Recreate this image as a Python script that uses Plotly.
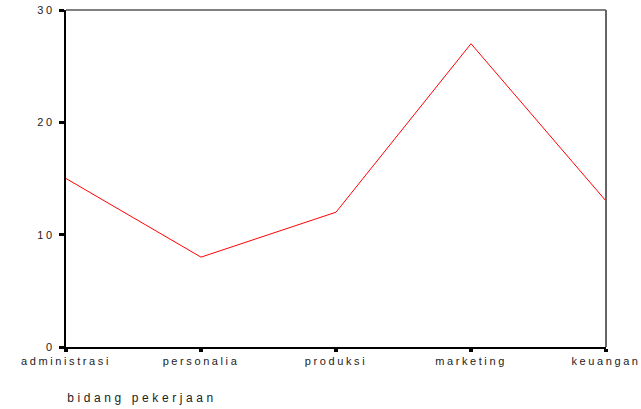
import plotly.graph_objects as go

categories = ["administrasi", "personalia", "produksi", "marketing", "keuangan"]
values = [15, 8, 12, 27, 13]
y_ticks = [0, 10, 20, 30]
x_title = "bidang pekerjaan"

fig = go.Figure()
fig.add_trace(go.Scatter(x=categories, y=values, mode="lines",
                         line=dict(color="#ff0000", width=1), hoverinfo="skip"))

font = dict(family="Liberation Sans, Arial", size=11, color="#222222")
fig.update_layout(
    width=641, height=409,
    margin=dict(l=66, r=35, t=10, b=62, autoexpand=False),
    paper_bgcolor="white", plot_bgcolor="white",
    showlegend=False,
    font=font,
    xaxis=dict(type="category", range=[0, 4], showgrid=False, zeroline=False,
               automargin=False,
               showline=True, linecolor="black", linewidth=2,
               ticks="outside", ticklen=3, tickwidth=4, tickcolor="black",
               tickfont=font, ticklabelstandoff=0),
    yaxis=dict(range=[0, 30], tickvals=y_ticks, showgrid=False, zeroline=False,
               automargin=False,
               showline=True, linecolor="black", linewidth=2,
               ticks="outside", ticklen=5, tickwidth=3, tickcolor="black",
               tickfont=font, ticklabelstandoff=2),
    shapes=[
        dict(type="line", xref="paper", yref="paper", x0=0, x1=1, y0=1, y1=1,
             line=dict(color="black", width=1)),
        dict(type="line", xref="paper", yref="paper", x0=1, x1=1, y0=0, y1=1,
             line=dict(color="#666666", width=2)),
    ],
    annotations=[dict(text=x_title, xref="paper", yref="paper", x=0, y=-0.125,
                      xanchor="left", yanchor="top", showarrow=False, xshift=28,
                      font=dict(family="Liberation Sans, Arial", size=12, color="#222222"))],
)

post = """
var st = document.createElement('style');
st.innerHTML = 'html, body {margin:0; padding:0; overflow:hidden;} .xtick text, .ytick text {letter-spacing: 2.6px;} .annotation-text {letter-spacing: 3.6px;}';
document.head.appendChild(st);
"""
fig.write_html("out.html", post_script=post, config={"displayModeBar": False})
